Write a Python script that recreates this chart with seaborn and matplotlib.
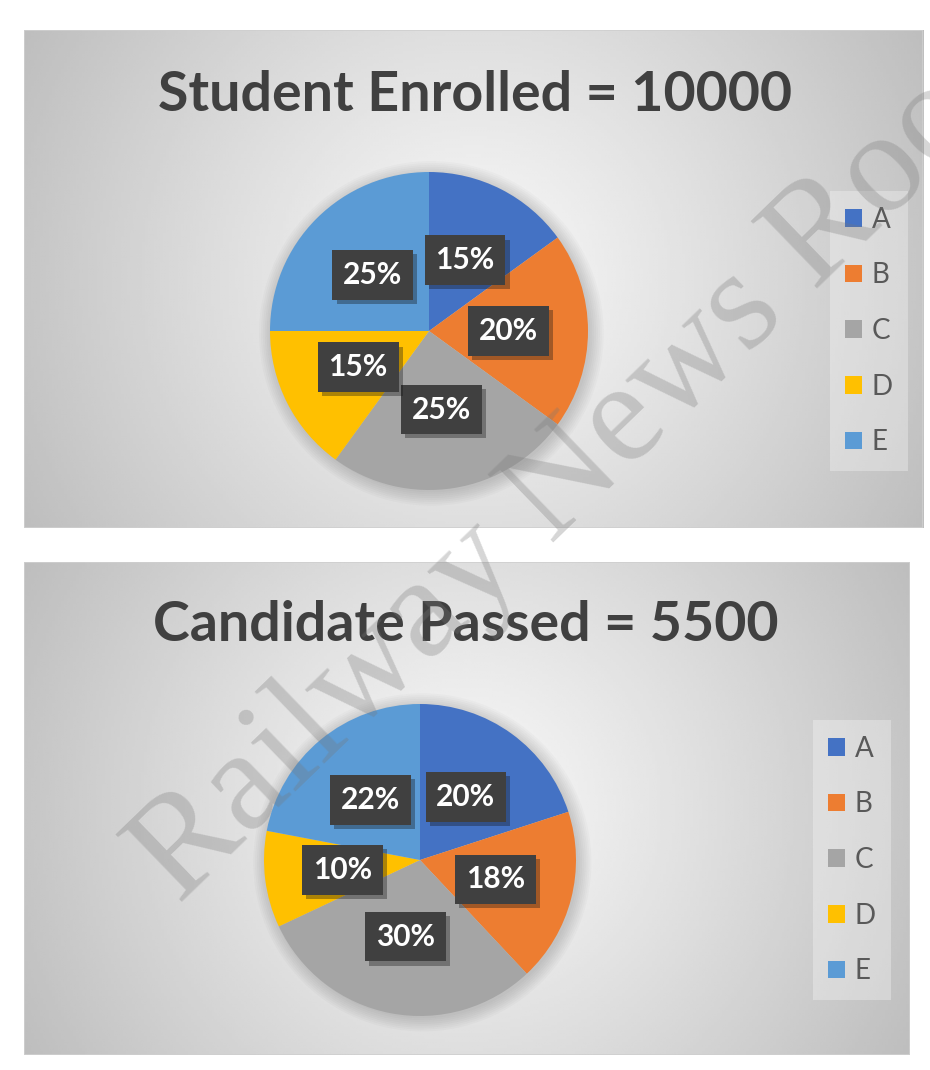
import numpy as np
import matplotlib.pyplot as plt
import matplotlib.patheffects as pe
from matplotlib.patches import Patch, Rectangle, Circle
import seaborn as sns

sns.set_theme(style="white")
plt.rcParams["font.family"] = ["Lato", "DejaVu Sans"]

categories = ["A", "B", "C", "D", "E"]
enrolled_pct = [15, 20, 25, 15, 25]
passed_pct = [20, 18, 30, 10, 22]
titles = ["Student Enrolled = 10000", "Candidate Passed = 5500"]
colors = ["#4472C4", "#ED7D31", "#A5A5A5", "#FFC000", "#5B9BD5"]

W, H = 930, 1070
fig = plt.figure(figsize=(W / 100, H / 100), dpi=100)
fig.patch.set_facecolor("white")


def fx(px):
    return px / W


def fy(py):
    return 1 - py / H


def panel_bg(x0, y0, x1, y1):
    ax = fig.add_axes([fx(x0), fy(y1), (x1 - x0) / W, (y1 - y0) / H])
    w, h = x1 - x0, y1 - y0
    xx, yy = np.meshgrid(np.linspace(-w / 2, w / 2, 300), np.linspace(-h / 2, h / 2, 170))
    r = np.sqrt(xx ** 2 + yy ** 2) / (w / 2)
    v = 0.975 - 0.2 * r ** 1.1
    ax.imshow(v, cmap="gray", vmin=0, vmax=1, extent=[0, 1, 0, 1],
              aspect="auto", interpolation="bilinear")
    ax.add_patch(Rectangle((0, 0), 1, 1, transform=ax.transAxes, fill=False,
                           ec="#cfcfcf", lw=1.2))
    ax.set_axis_off()


def pie_panel(vals, title, cx, cy, r, tx, ty, lx, ly):
    ax = fig.add_axes([fx(cx - r), fy(cy + r), 2 * r / W, 2 * r / H])
    # soft shadow behind the pie
    for k in range(8):
        ax.add_patch(Circle((0.015, -0.015), 1 + 0.012 * k, fc="black",
                            alpha=0.018, ec="none", zorder=0, clip_on=False))
    wedges, _, autotexts = ax.pie(
        vals, colors=colors, startangle=90, counterclock=False,
        autopct=lambda p: f"{p:.0f}%", pctdistance=0.5,
        wedgeprops=dict(linewidth=0),
    )
    ax.set_xlim(-1, 1)
    ax.set_ylim(-1, 1)
    for t in autotexts:
        t.set_color("white")
        t.set_fontsize(21.5)
        t.set_fontweight("bold")
        t.set_bbox(dict(boxstyle="square,pad=0.36", fc="#404040", ec="none"))
        t.get_bbox_patch().set_path_effects(
            [pe.withSimplePatchShadow(offset=(3, -3), alpha=0.35)])
    fig.text(fx(tx), fy(ty), title, ha="center", va="center",
             fontsize=40, fontweight="bold", color="#404040")
    handles = [Patch(fc=c, ec="none", label=l) for c, l in zip(colors, categories)]
    leg = ax.legend(handles=handles, loc="center", bbox_to_anchor=(fx(lx), fy(ly)),
                    bbox_transform=fig.transFigure, fontsize=20, labelspacing=1.07,
                    handlelength=0.6, handleheight=0.6, handletextpad=0.35,
                    borderpad=0.55, frameon=True, fancybox=False)
    leg.get_frame().set_facecolor("white")
    leg.get_frame().set_alpha(0.3)
    leg.get_frame().set_edgecolor("none")
    for txt in leg.get_texts():
        txt.set_color("#595959")


panel_bg(24, 30, 923, 528)
panel_bg(24, 562, 910, 1055)

pie_panel(enrolled_pct, titles[0], 429, 331, 159, 475, 95, 869, 331)
pie_panel(passed_pct, titles[1], 420, 860, 156, 466, 625, 852, 860)

fig.text(fx(178), fy(905), "Railway News Room", rotation=44, rotation_mode="anchor",
         ha="left", va="baseline", fontsize=104, family="Liberation Serif",
         color="#777777", alpha=0.3, zorder=100)

fig.savefig("out.png", dpi=100)
